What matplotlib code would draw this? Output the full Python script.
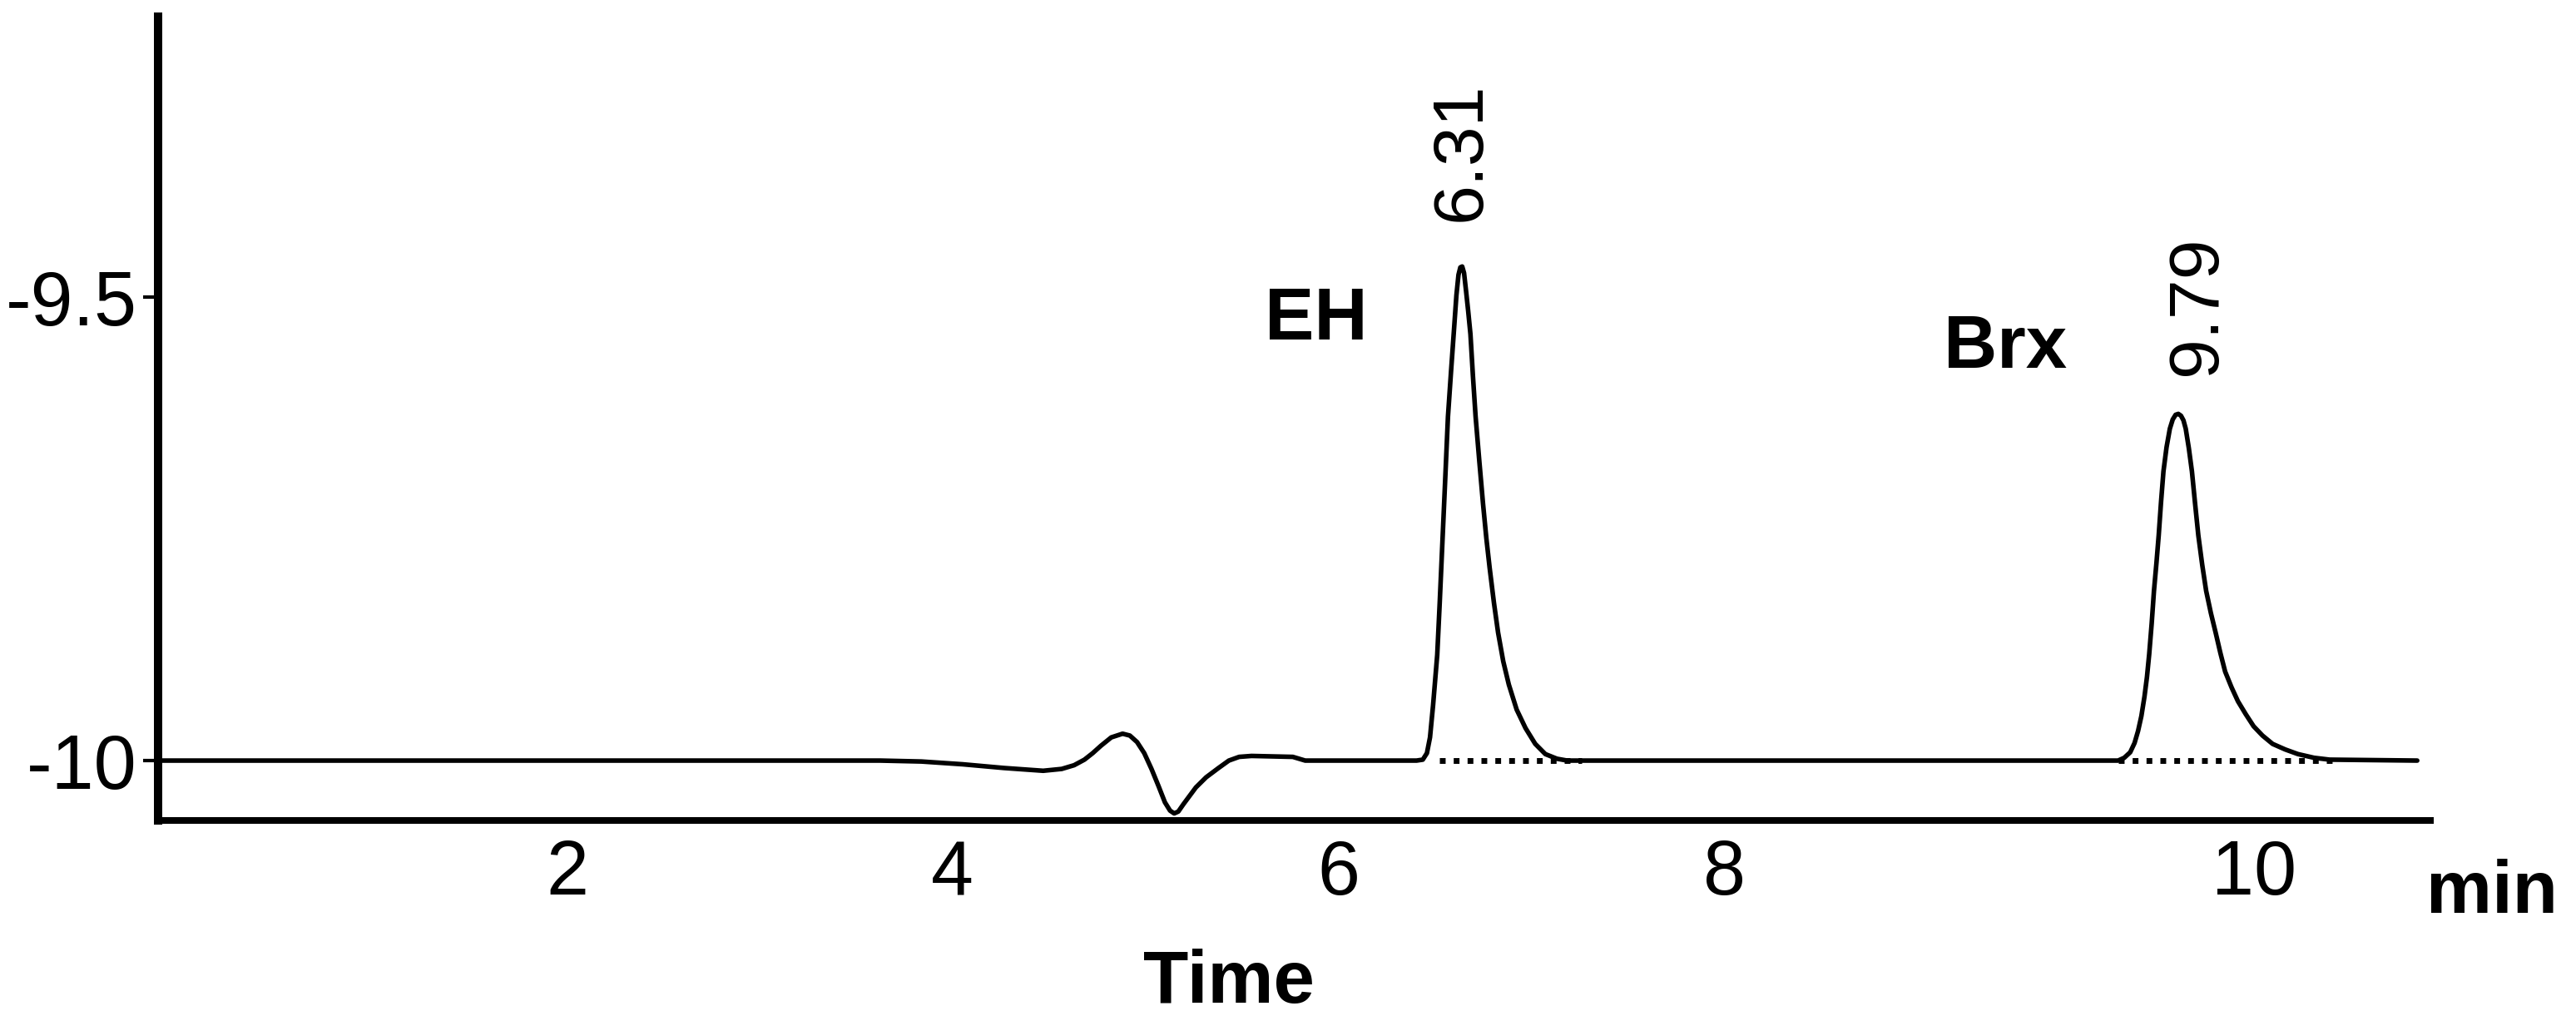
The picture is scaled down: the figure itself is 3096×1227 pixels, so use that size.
import matplotlib
matplotlib.use("Agg")
import matplotlib.pyplot as plt

plt.rcParams['font.family'] = ['Liberation Sans', 'DejaVu Sans']

# chromatogram trace (time in min, signal)
time_min = [0.00, 3.50, 3.70, 3.90, 4.10, 4.29, 4.38, 4.44, 4.49, 4.53,
            4.57, 4.62, 4.675, 4.71, 4.745, 4.78, 4.815, 4.85, 4.88, 4.905,
            4.925, 4.945, 4.97, 5.00, 5.03, 5.08, 5.14, 5.19, 5.24, 5.30,
            5.50, 5.56,
            6.10, 6.13, 6.150, 6.165, 6.180, 6.200, 6.212, 6.224, 6.238,
            6.252, 6.267, 6.281, 6.293, 6.303, 6.312, 6.321, 6.330, 6.340,
            6.350, 6.361, 6.373, 6.386, 6.404, 6.422, 6.438, 6.454, 6.475,
            6.495, 6.520, 6.547, 6.585, 6.628, 6.675, 6.724, 6.78, 6.830,
            9.50, 9.53, 9.559, 9.580, 9.597, 9.613, 9.628, 9.640, 9.651,
            9.663, 9.674, 9.686, 9.697, 9.708, 9.720, 9.735, 9.751, 9.765,
            9.779, 9.792, 9.805, 9.817, 9.828, 9.843, 9.858, 9.873, 9.889,
            9.908, 9.927, 9.950, 9.973, 9.996, 10.019, 10.050, 10.081,
            10.119, 10.157, 10.200, 10.249, 10.310, 10.372, 10.450, 10.525,
            10.95]
signal = [-10.000, -10.000, -10.001, -10.004, -10.008, -10.011, -10.009,
          -10.005, -9.999, -9.992, -9.984, -9.975, -9.971, -9.973, -9.980,
          -9.992, -10.009, -10.028, -10.045, -10.054, -10.057, -10.055,
          -10.047, -10.038, -10.029, -10.018, -10.008, -10.000, -9.996,
          -9.995, -9.996, -10.000,
          -10.000, -9.999, -9.992, -9.975, -9.940, -9.886, -9.830, -9.770,
          -9.700, -9.629, -9.580, -9.536, -9.498, -9.476, -9.468, -9.467,
          -9.474, -9.494, -9.515, -9.540, -9.585, -9.629, -9.677, -9.723,
          -9.760, -9.792, -9.830, -9.862, -9.893, -9.918, -9.945, -9.965,
          -9.982, -9.993, -9.998, -10.000,
          -10.000, -9.997, -9.991, -9.981, -9.968, -9.952, -9.931, -9.910,
          -9.885, -9.852, -9.817, -9.787, -9.757, -9.722, -9.688, -9.662,
          -9.642, -9.632, -9.627, -9.626, -9.628, -9.633, -9.642, -9.663,
          -9.688, -9.722, -9.757, -9.789, -9.817, -9.841, -9.862, -9.884,
          -9.904, -9.921, -9.936, -9.950, -9.963, -9.973, -9.982, -9.988,
          -9.993, -9.997, -9.999, -10.000]

# integration baselines (dotted)
base_starts = [6.21, 9.50]
base_ends = [6.90, 10.56]
base_level = -10.0

# peaks
peak_rt = ['6.31', '9.79']
rt_x = [6.32, 9.883]
rt_y = [-9.418, -9.5845]
compound = ['EH', 'Brx']
comp_x = [5.615, 8.955]
comp_y = [-9.546, -9.5764]

yticks = [-10, -9.5]
ytick_labels = ['-10', '-9.5']
# tick labels sit where the picture shows them
xtick_pos = [1.985, 3.85, 5.72, 7.59, 10.16]
xtick_labels = ['2', '4', '6', '8', '10']

fig = plt.figure(figsize=(15.48, 6.135), dpi=200)
ax = fig.add_axes([190 / 3096, 1 - 986 / 1227, (2925 - 190) / 3096,
                   (986 - 20) / 1227])

ax.plot(time_min, signal, color='black', linewidth=2.0,
        solid_joinstyle='round', solid_capstyle='round')
for x0, x1 in zip(base_starts, base_ends):
    ax.plot([x0, x1], [base_level, base_level], color='black',
            linestyle=(0, (1.0, 1.4)), linewidth=2.5)

for lab, x, y in zip(peak_rt, rt_x, rt_y):
    ax.text(x, y, lab, rotation=90, ha='center', va='bottom', fontsize=31)
for lab, x, y in zip(compound, comp_x, comp_y):
    ax.text(x, y, lab, ha='center', va='baseline', fontsize=32,
            fontweight='bold')

ax.set_xlim(0, 11.03)
ax.set_ylim(-10.0646, -9.1975)

for side in ['top', 'right']:
    ax.spines[side].set_visible(False)
ax.spines['left'].set_linewidth(3.6)
ax.spines['bottom'].set_linewidth(2.9)
ax.spines['bottom'].set_capstyle('butt')

ax.set_yticks(yticks)
ax.set_yticklabels(ytick_labels)
ax.set_xticks(xtick_pos)
ax.set_xticklabels(xtick_labels)
ax.tick_params(axis='y', length=6.5, width=1.5, pad=2.5, labelsize=33)
ax.tick_params(axis='x', length=0, pad=8, labelsize=33)

fig.text(2995 / 3096, 1 - 1097 / 1227, 'min', ha='center', va='baseline',
         fontsize=32, fontweight='bold')
fig.text(1477 / 3096, 1 - 1205 / 1227, 'Time', ha='center', va='baseline',
         fontsize=32, fontweight='bold')

fig.savefig('out.png', dpi=200)
